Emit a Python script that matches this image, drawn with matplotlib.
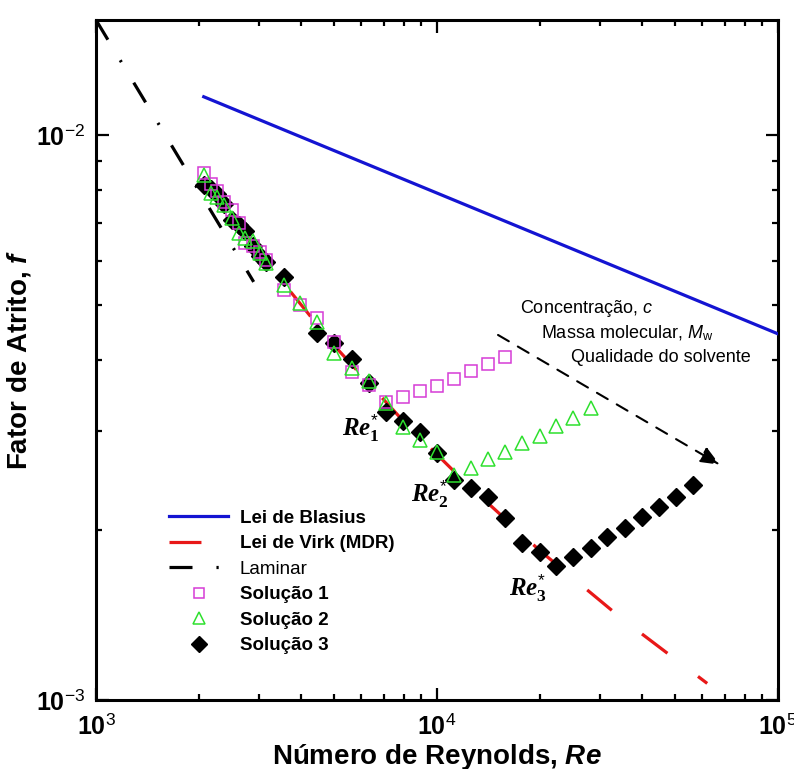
import numpy as np
import matplotlib
matplotlib.use("Agg")
import matplotlib.pyplot as plt
from matplotlib.ticker import FixedLocator, FixedFormatter, LogLocator, NullFormatter

plt.rcParams['font.family'] = ['Liberation Sans', 'DejaVu Sans']
plt.rcParams['mathtext.fontset'] = 'custom'
plt.rcParams['mathtext.rm'] = 'Liberation Sans'
plt.rcParams['mathtext.bf'] = 'Liberation Sans:bold'
plt.rcParams['mathtext.it'] = 'Liberation Serif:italic:bold'
plt.rcParams['mathtext.sf'] = 'Liberation Serif:bold'
plt.rcParams['mathtext.cal'] = 'Liberation Sans:italic'
plt.rcParams['mathtext.tt'] = 'Liberation Sans:italic:bold'

# --- data ---
re_blasius = [2070, 100000]
f_blasius = [0.0117, 0.00445]

re_virk = [2070, 3000, 5000, 8000, 12000, 20000, 35000, 62000]
f_virk = [0.0083, 0.0062, 0.00424, 0.00311, 0.00244, 0.00184, 0.00139, 0.00107]

re_laminar = [1000, 2900]
f_laminar = [0.016, 0.0055]

re_dense = [2070, 2170, 2270, 2380, 2500, 2620, 2740, 2880, 3020, 3160]
re_sparse = [3550, 3960, 4440, 4980, 5620, 6310, 7080, 7940, 8910, 10000,
             11200, 12600, 14100, 15800, 17800, 20000, 22400, 25100, 28200,
             31600, 35500, 39800, 44700, 50100, 56200]

re_sol1 = re_dense + re_sparse[:14]
f_sol1 = [0.00857, 0.00819, 0.00796, 0.00761, 0.00737, 0.00699, 0.00644, 0.00636, 0.00621, 0.00601,
          0.00532, 0.00500, 0.00475, 0.00430, 0.00381, 0.00361, 0.00337, 0.00344, 0.00352, 0.00360,
          0.00370, 0.00382, 0.00393, 0.00405]

re_sol2 = re_dense + re_sparse[:19]
f_sol2 = [0.00850, 0.00790, 0.00777, 0.00752, 0.00713, 0.00671, 0.00657, 0.00649, 0.00620, 0.00593,
          0.00543, 0.00504, 0.00467, 0.00411, 0.00387, 0.00367, 0.00335, 0.00304, 0.00289, 0.00275,
          0.00250, 0.00258, 0.00267, 0.00275, 0.00285, 0.00294, 0.00306, 0.00316, 0.00329]

re_sol3 = re_dense + re_sparse[:1] + re_sparse[2:]
f_sol3 = [0.00816, 0.00802, 0.00786, 0.00755, 0.00707, 0.00693, 0.00676, 0.00636, 0.00611, 0.00596,
          0.00560, 0.00446, 0.00428, 0.00401, 0.00364, 0.00323, 0.00312, 0.00298, 0.00274,
          0.00245, 0.00237, 0.00229, 0.00210, 0.00190, 0.00183, 0.00173, 0.00179, 0.00186,
          0.00194, 0.00202, 0.00211, 0.00220, 0.00229, 0.00240]

fig = plt.figure(figsize=(7.94, 7.69), dpi=100)
ax = fig.add_axes([96/794, 1-700/769, 682/794, 680/769])

ax.plot(re_blasius, f_blasius, color='#1414d2', lw=2.3, label='Lei de Blasius', zorder=3)
ax.plot(re_virk, f_virk, color='#e81818', lw=2.3, dashes=(10, 12), label='Lei de Virk (MDR)', zorder=3)
ax.plot(re_laminar, f_laminar, color='black', lw=2.3, dashes=(7.2, 7.5, 0.7, 7.5), label='Laminar', zorder=3)
ax.plot(re_sol1, f_sol1, ls='none', marker='s', ms=8.5, mfc='none', mec='#d63cd6', mew=1.1,
        label='Solução 1', zorder=4)
ax.plot(re_sol2, f_sol2, ls='none', marker='^', ms=9.5, mfc='none', mec='#2ee02e', mew=1.1,
        label='Solução 2', zorder=4)
ax.plot(re_sol3, f_sol3, ls='none', marker='D', ms=9, color='black', label='Solução 3', zorder=3.5)

ax.set_xscale('log')
ax.set_yscale('log')
ax.set_xlim(1e3, 1e5)
ax.set_ylim(1e-3, 0.016)

ax.xaxis.set_major_locator(FixedLocator([1e3, 1e4, 1e5]))
ax.xaxis.set_major_formatter(FixedFormatter([r'$\mathbf{10}^{3}$', r'$\mathbf{10}^{4}$', r'$\mathbf{10}^{5}$']))
ax.xaxis.set_minor_locator(LogLocator(base=10, subs=range(2, 10)))
ax.xaxis.set_minor_formatter(NullFormatter())
ax.yaxis.set_major_locator(FixedLocator([1e-3, 1e-2]))
ax.yaxis.set_major_formatter(FixedFormatter([r'$\mathbf{10}^{-3}$', r'$\mathbf{10}^{-2}$']))
ax.yaxis.set_minor_locator(LogLocator(base=10, subs=range(2, 10)))
ax.yaxis.set_minor_formatter(NullFormatter())

ax.tick_params(which='both', direction='in', top=True, right=True, width=1.6, labelsize=18)
ax.tick_params(which='major', length=9)
ax.tick_params(which='minor', length=4.5)
ax.tick_params(axis='x', pad=10)
ax.tick_params(axis='y', pad=8)
for s in ax.spines.values():
    s.set_linewidth(2.2)

ax.set_xlabel(r'Número de Reynolds, $\mathtt{Re}$', fontsize=20, fontweight='bold', labelpad=2)
ax.set_ylabel(r'Fator de Atrito, $\mathtt{f}$', fontsize=20, fontweight='bold', labelpad=2)

# critical Reynolds labels
ax.text(5250, 0.00294, r'$Re^{*}_{\mathsf{1}}$', fontsize=18, ha='left', va='baseline')
ax.text(8400, 0.00224, r'$Re^{*}_{\mathsf{2}}$', fontsize=18, ha='left', va='baseline')
ax.text(16300, 0.00153, r'$Re^{*}_{\mathsf{3}}$', fontsize=18, ha='left', va='baseline')

# trend arrow
ax.annotate('', xy=(67500, 0.00261), xytext=(15100, 0.00443),
            arrowprops=dict(arrowstyle='-|>,head_length=1.2,head_width=0.5', color='black',
                            lw=1.5, linestyle=(0, (6, 5)), shrinkA=0, shrinkB=0))
ax.text(17545, 0.00484, r'Concentração, $\mathcal{c}$', fontsize=13, ha='left', va='baseline')
ax.text(20230, 0.00437, r'Massa molecular, $\mathcal{M}_{\mathrm{w}}$', fontsize=13, ha='left', va='baseline')
ax.text(24790, 0.003966, 'Qualidade do solvente', fontsize=13, ha='left', va='baseline')

leg = ax.legend(loc='upper left', bbox_to_anchor=(0.094, 0.294), frameon=False, fontsize=13.5,
                handlelength=3.1, handletextpad=0.65, labelspacing=0.45, numpoints=1, borderpad=0,
                markerscale=0.85)
for t in leg.get_texts():
    if t.get_text() != 'Laminar':
        t.set_fontweight('bold')

fig.savefig('out.png', dpi=100)
